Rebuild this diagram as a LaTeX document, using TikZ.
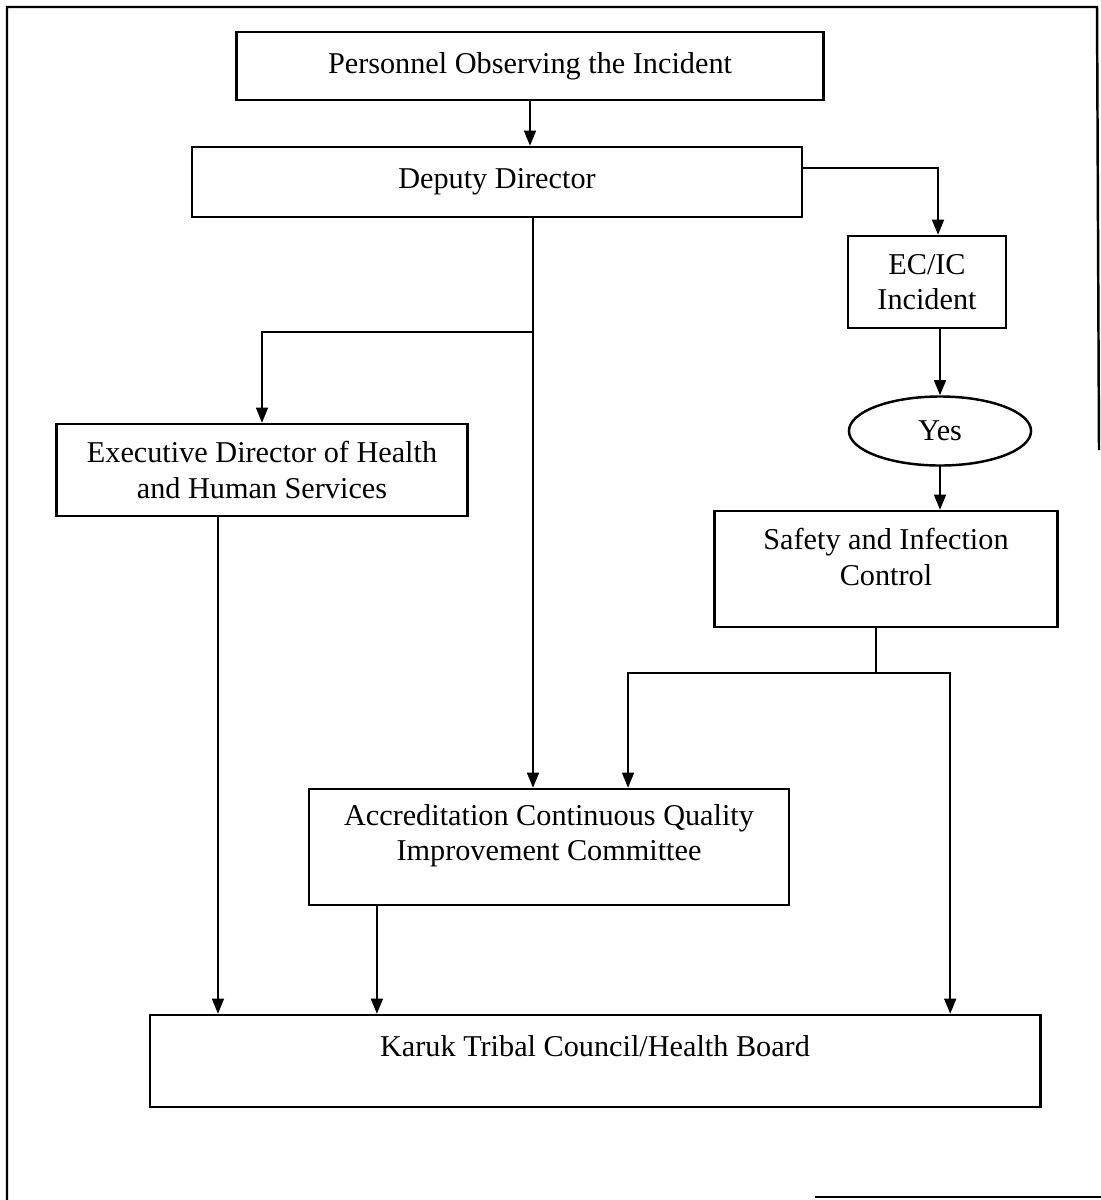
\documentclass[tikz,border=0pt]{standalone}
\usepackage{fontspec}
\setmainfont{Liberation Serif}
\usetikzlibrary{arrows.meta,shapes.geometric}

\begin{document}
\begin{tikzpicture}[x=0.01cm,y=-0.01cm,
    >={Triangle[length=4.3pt,width=3.4pt]},
    box/.style={draw,line width=0.7pt,align=center,font=\fontsize{8.6}{10}\selectfont},
    txt/.style={align=center,font=\fontsize{8.6}{10}\selectfont},
    line/.style={line width=0.5pt}]
    \useasboundingbox(0,0)rectangle(1101,1200);
    \draw[line width=0.7pt](7,1200)--(7,7)--(1097,7)--(1099,450);
    \draw[line width=0.7pt](815,1197)--(1101,1197);

    \node[box,minimum width=5.87cm,minimum height=0.68cm](obs)at(530,66){Personnel Observing the Incident};
    \node[box,minimum width=6.10cm,minimum height=0.70cm](dep)at(497,182){Deputy Director};
    \node[box,minimum width=1.58cm,minimum height=0.92cm](ecic)at(927,282){EC/IC\\Incident};
    \node[box,ellipse,minimum width=1.82cm,minimum height=0.69cm,inner sep=0pt](yes)at(940,431){Yes};
    \node[box,minimum width=3.43cm,minimum height=1.16cm](safe)at(886,569){};
    \node[txt](safetext)at(886,557){Safety and Infection\\Control};
    \node[box,minimum width=4.11cm,minimum height=0.92cm](exec)at(262,470){Executive Director of Health\\and Human Services};
    \node[box,minimum width=4.80cm,minimum height=1.16cm](acc)at(549,847){};
    \node[txt](acctext)at(549,836){Accreditation Continuous Quality\\Improvement Committee};
    \node[box,minimum width=8.90cm,minimum height=0.92cm](karuk)at(595,1061){};
    \node[txt](karuktext)at(595,1046){Karuk Tribal Council/Health Board};

    \coordinate(dsplit)at(533,332);
    \coordinate(ssplit)at(876,673);

    \draw[line,->](obs.south)--(obs.south|-dep.north);
    \draw[line,->]([yshift=0.14cm]dep.east)-|([xshift=0.11cm]ecic.north);
    \draw[line,->](yes.north|-ecic.south)--(yes.north);
    \draw[line,->](yes.south)--(yes.south|-safe.north);
    \draw[line](dep.south-|dsplit)--(dsplit);
    \draw[line,->](dsplit)-|(exec.north);
    \draw[line,->](dsplit)--(dsplit|-acc.north);
    \draw[line](safe.south-|ssplit)--(ssplit);
    \draw[line,->](ssplit)-|([xshift=0.79cm]acc.north);
    \draw[line,->](ssplit)-|([xshift=3.55cm]karuk.north);
    \draw[line,->]([xshift=-0.44cm]exec.south)--([xshift=-0.44cm]exec.south|-karuk.north);
    \draw[line,->]([xshift=-1.72cm]acc.south)--([xshift=-1.72cm]acc.south|-karuk.north);
\end{tikzpicture}
\end{document}
